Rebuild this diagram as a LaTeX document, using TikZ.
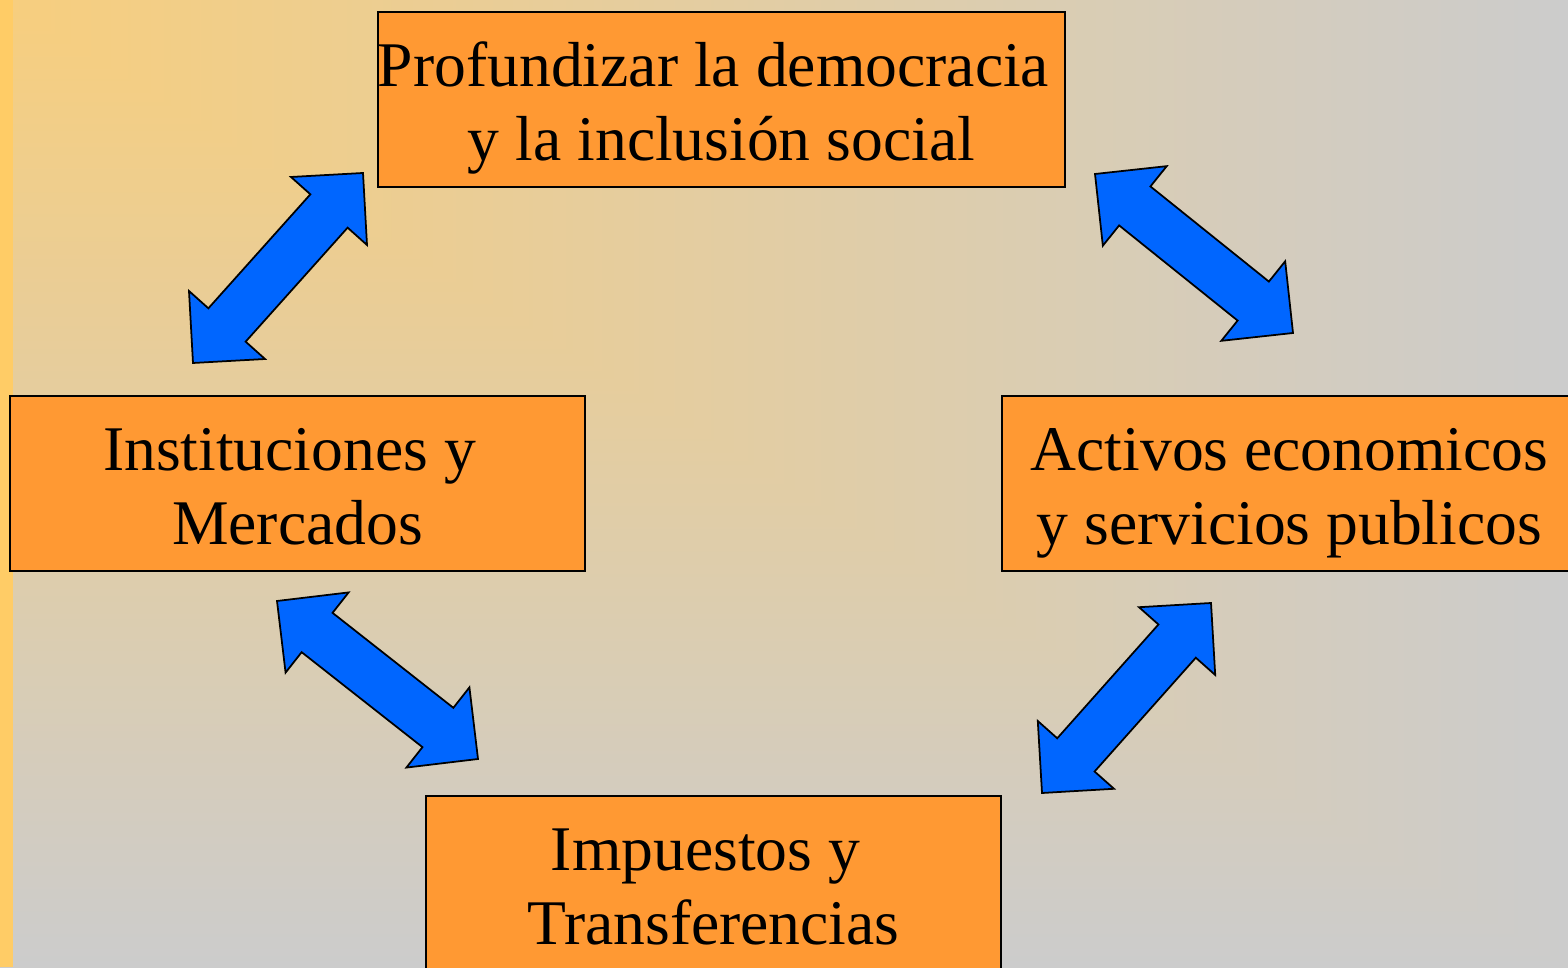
\documentclass[tikz,border=0pt]{standalone}
\usepackage{fontspec}
\setmainfont{Liberation Serif}
\usetikzlibrary{calc}
\definecolor{bgyellow}{HTML}{F7CE7E}
\definecolor{bggray}{HTML}{CCCCCC}
\definecolor{stripyellow}{HTML}{FFCC66}
\definecolor{boxorange}{HTML}{FF9933}
\definecolor{arrowblue}{HTML}{0066FF}
% dos lineas con altura fija
\newcommand{\twolines}[2]{\rule{0pt}{0.64cm}#1\\#2\rule[-0.16cm]{0pt}{0pt}}
% flecha doble de bloque entre dos puntas
\newcommand{\blockarrow}[2]{%
  \path[blockarr] let \p1=(#1), \p2=(#2), \n1={atan2(\y2-\y1,\x2-\x1)} in
    (\p1) -- ($(\p1)+(\n1:0.51cm)+(\n1+90:0.51cm)$)
    -- ($(\p1)+(\n1:0.51cm)+(\n1+90:0.25cm)$)
    -- ($(\p2)+(\n1+180:0.51cm)+(\n1+90:0.25cm)$)
    -- ($(\p2)+(\n1+180:0.51cm)+(\n1+90:0.51cm)$)
    -- (\p2)
    -- ($(\p2)+(\n1+180:0.51cm)+(\n1-90:0.51cm)$)
    -- ($(\p2)+(\n1+180:0.51cm)+(\n1-90:0.25cm)$)
    -- ($(\p1)+(\n1:0.51cm)+(\n1-90:0.25cm)$)
    -- ($(\p1)+(\n1:0.51cm)+(\n1-90:0.51cm)$)
    -- cycle;}
\begin{document}
\begin{tikzpicture}[box/.style={draw=black, line width=0.6pt, fill=boxorange, minimum width=5.75cm, minimum height=1.75cm, inner sep=0pt, align=center, font=\fontsize{18.1}{21.3}\selectfont},
  blockarr/.style={draw=black, line width=0.5pt, fill=arrowblue, line join=miter}]
\useasboundingbox (0,0) rectangle (15.68,9.67);
\clip (0,0) rectangle (15.68,9.67);
% fondo
\shade[top color=bgyellow, bottom color=bggray] (0,0) rectangle (15.68,9.67);
\shade[left color=bgyellow, right color=bggray] (0,9.67) -- (15.68,9.67) -- (15.68,0) -- cycle;
\fill[stripyellow] (0,0) rectangle (0.13,9.67);

\node[box, minimum width=6.87cm] at (7.215,8.675) (democracia) {\twolines{Profundizar la democracia\hspace*{0.25em}}{y la inclusión social}};
\node[box] at (2.975,4.835) (instituciones) {\twolines{Instituciones y\hspace*{0.25em}}{Mercados}};
\node[box] at (12.895,4.835) (activos) {\twolines{Activos economicos}{y servicios publicos}};
\node[box] at (7.135,0.835) (impuestos) {\twolines{Impuestos y\hspace*{0.25em}}{Transferencias}};

\coordinate (a1) at (1.93,6.04); \coordinate (b1) at (3.63,7.94);
\coordinate (a2) at (10.95,7.93); \coordinate (b2) at (12.93,6.34);
\coordinate (a3) at (2.77,3.66); \coordinate (b3) at (4.78,2.08);
\coordinate (a4) at (10.42,1.74); \coordinate (b4) at (12.11,3.64);
\blockarrow{a1}{b1}
\blockarrow{a2}{b2}
\blockarrow{a3}{b3}
\blockarrow{a4}{b4}
\end{tikzpicture}
\end{document}
